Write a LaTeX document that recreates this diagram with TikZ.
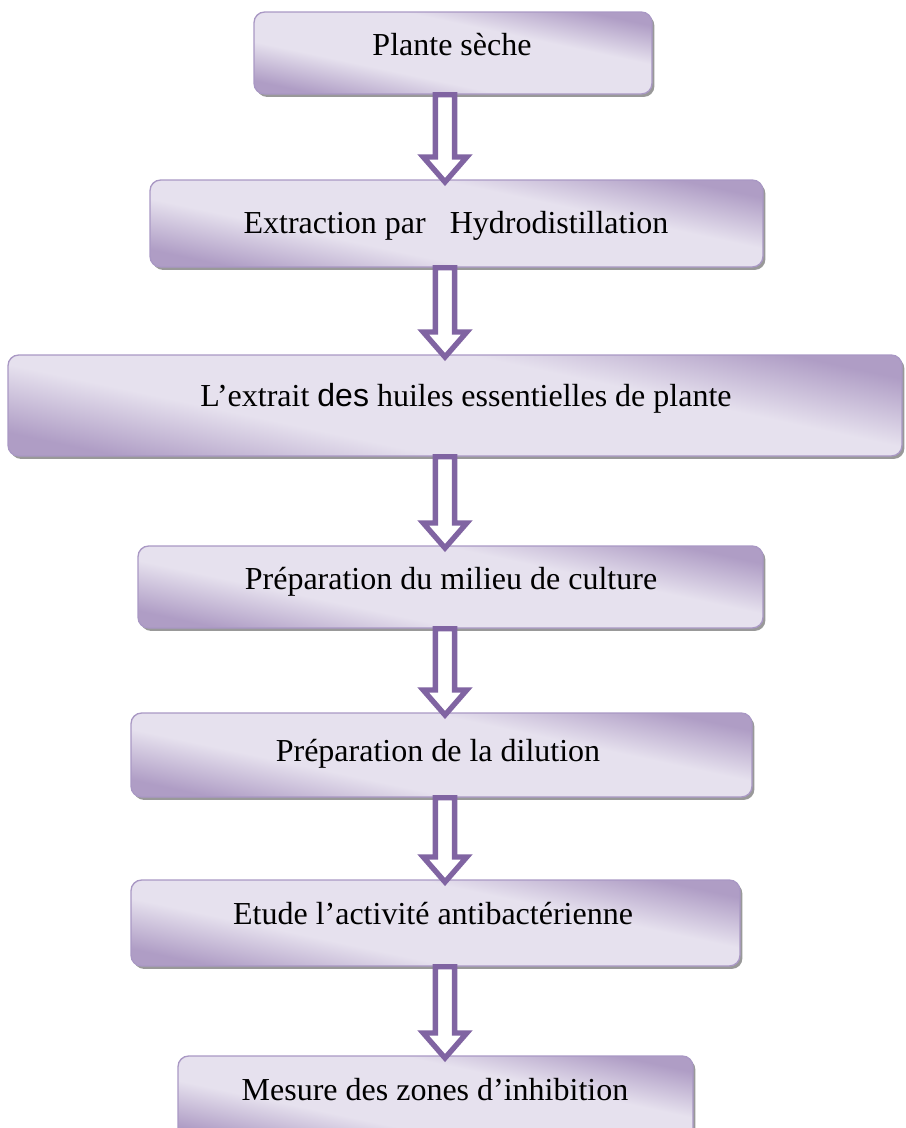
\documentclass[tikz,border=0pt]{standalone}
\usepackage{fontspec}
\setmainfont{Liberation Serif}
\newfontfamily\arialfont{Liberation Sans}
\usetikzlibrary{calc,fit,shadows}

\definecolor{boxdark}{HTML}{AF9DC5}
\definecolor{boxlight}{HTML}{E6E1EE}
\definecolor{boxedge}{HTML}{A998C4}
\definecolor{arrowpurple}{HTML}{8064A2}

\pgfdeclareverticalshading{boxshade}{100bp}{color(0bp)=(boxdark); color(25bp)=(boxdark);
  color(39bp)=(boxlight); color(61bp)=(boxlight); color(75bp)=(boxdark); color(100bp)=(boxdark)}

% hollow block arrow from the bottom of one box to the top of the next
\newcommand{\flowarrow}[2]{%
  \draw[arrowline] let \p1=(#1.south -| ax), \p2=(#2.north -| ax) in
    ({\x1-3.6pt},\y1) -- ({\x1+3.6pt},\y1) -- ({\x1+3.6pt},{\y2+8.4pt})
    -- ({\x1+8.2pt},{\y2+8.4pt}) -- (\x2,{\y2-1pt}) -- ({\x1-8.2pt},{\y2+8.4pt})
    -- ({\x1-3.6pt},{\y2+8.4pt}) -- cycle;}

\begin{document}
\begin{tikzpicture}
  [x=0.375pt,y=-0.375pt,
   every node/.style={font=\fontsize{12}{14}\selectfont},
   stepbox/.style={draw=boxedge,line width=0.5pt,rounded corners=4pt,inner sep=0pt,
     shading=boxshade,shading angle=-12,
     drop shadow={shadow xshift=0.9pt,shadow yshift=-1.1pt,fill=black!40,opacity=1}},
   steptext/.style={anchor=base,inner sep=0pt},
   arrowline/.style={draw=arrowpurple,fill=white,line width=2pt}]
  \useasboundingbox (0,0) rectangle (906,1128);
  \coordinate (ax) at (445,0);

  \node[stepbox,fit={(254,12)(652,94)}] (n1) {};
  \node[stepbox,fit={(150,180)(763,267)}] (n2) {};
  \node[stepbox,fit={(8,355)(902,456)}] (n3) {};
  \node[stepbox,fit={(138,546)(763,628)}] (n4) {};
  \node[stepbox,fit={(131,713)(752,797)}] (n5) {};
  \node[stepbox,fit={(131,880)(740,966)}] (n6) {};
  \node[stepbox,fit={(178,1056)(693,1142)}] (n7) {};

  \node[steptext] (t1) at (452,55) {Plante sèche};
  \node[steptext] (t2) at (456,233) {Extraction par\ \ \ Hydrodistillation};
  \node[steptext] (t3) at (466,406) {L’extrait {\arialfont des} huiles essentielles de plante};
  \node[steptext] (t4) at (451,589) {Préparation du milieu de culture};
  \node[steptext] (t5) at (438,761) {Préparation de la dilution};
  \node[steptext] (t6) at (433,924) {Etude l’activité antibactérienne};
  \node[steptext] (t7) at (435,1100) {Mesure des zones d’inhibition};

  \foreach \from/\to in {n1/n2,n2/n3,n3/n4,n4/n5,n5/n6,n6/n7}
    \flowarrow{\from}{\to};
\end{tikzpicture}
\end{document}
